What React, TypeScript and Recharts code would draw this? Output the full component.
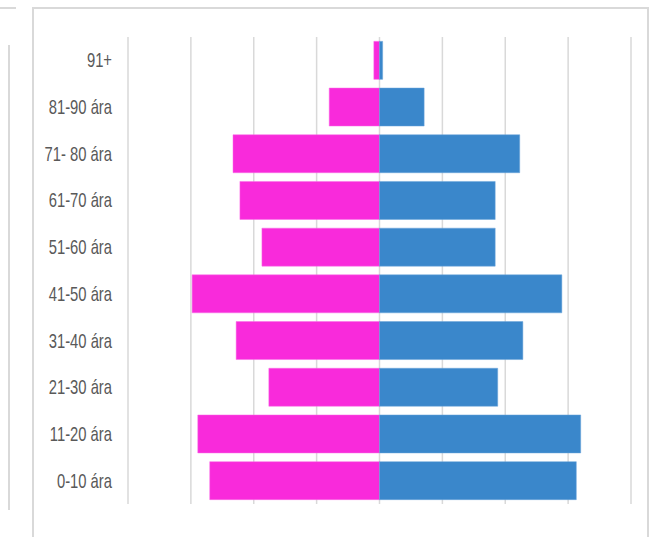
import React from 'react';
import { BarChart, Bar, XAxis, YAxis, CartesianGrid } from 'recharts';

const ageGroups = ['91+', '81-90 ára', '71- 80 ára', '61-70 ára', '51-60 ára', '41-50 ára', '31-40 ára', '21-30 ára', '11-20 ára', '0-10 ára'];
const women = [-9, -80, -233, -222, -187, -298, -228, -176, -289, -270];
const men = [5, 71, 223, 184, 184, 290, 228, 188, 320, 313];
const xTicks = [-400, -300, -200, -100, 0, 100, 200, 300, 400];

const data = ageGroups.map((name, i) => ({ name, women: women[i], men: men[i] }));

const AgeTick = (props: any) => {
  const { x, y, payload } = props;
  return (
    <g transform={`translate(${x},${y}) scale(0.74,1)`}>
      <text x={0} y={0} dy={7} textAnchor="end" fill="#595959" fontSize={20} fontFamily="Liberation Sans, Arial, sans-serif">
        {payload.value}
      </text>
    </g>
  );
};

const App = () => {
  return (
    <div style={{ position: 'fixed', left: 0, top: 0, width: 652, height: 537, background: '#fff', overflow: 'hidden' }}>
      {/* edge of the neighbouring chart */}
      <div style={{ position: 'absolute', left: 0, top: 7, width: 16, height: 2, background: '#d9d9d9' }} />
      <div style={{ position: 'absolute', left: 8, top: 45, width: 2, height: 465, background: '#d9d9d9' }} />
      {/* chart frame */}
      <div style={{ position: 'absolute', left: 32, top: 7, width: 617, height: 560, border: '2px solid #d9d9d9', boxSizing: 'border-box' }} />
      <div style={{ position: 'absolute', left: 0, top: 0 }}>
        <BarChart
          width={652}
          height={537}
          data={data}
          layout="vertical"
          stackOffset="sign"
          barCategoryGap="9.3%"
          margin={{ top: 37, right: 21, bottom: 33, left: 0 }}
        >
          <CartesianGrid horizontal={false} stroke="#d9d9d9" strokeWidth={1.5} />
          <XAxis type="number" domain={[-400, 400]} ticks={xTicks} hide />
          <YAxis
            type="category"
            dataKey="name"
            width={128}
            axisLine={false}
            tickLine={false}
            tickSize={0}
            tickMargin={16}
            tick={<AgeTick />}
            interval={0}
          />
          <Bar dataKey="women" stackId="a" fill="#f92adb" stroke="#fb6ce6" strokeWidth={0.5} isAnimationActive={false} />
          <Bar dataKey="men" stackId="a" fill="#3a87cb" stroke="#6aa5da" strokeWidth={0.5} isAnimationActive={false} />
        </BarChart>
      </div>
    </div>
  );
};

export default App;
